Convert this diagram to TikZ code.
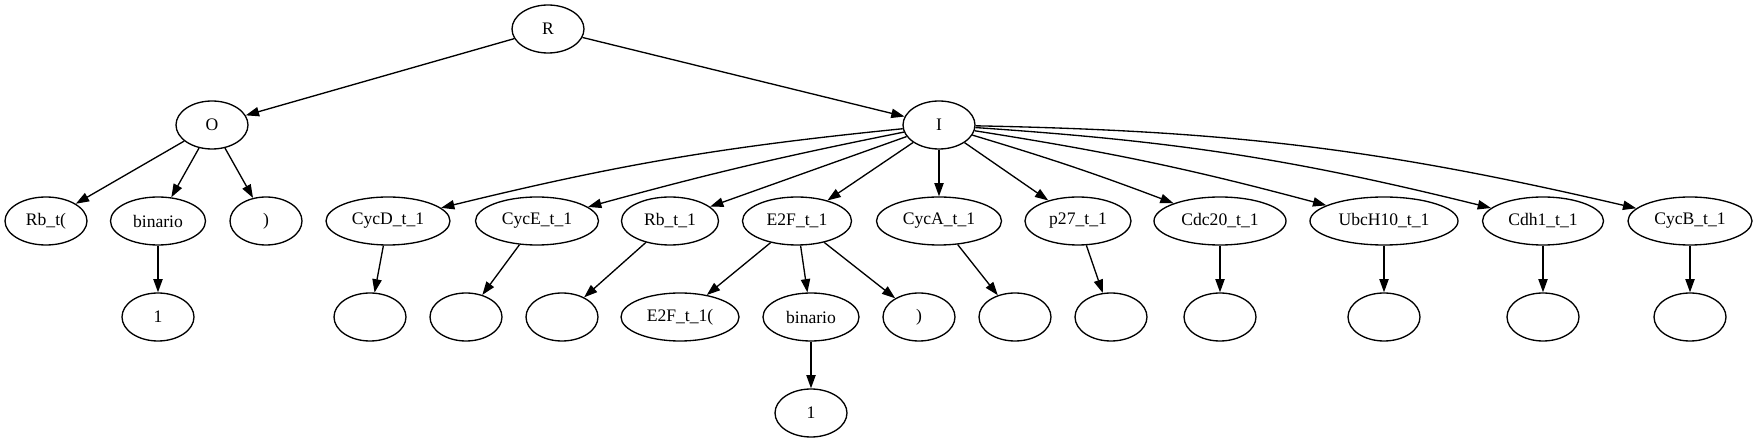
\documentclass[tikz,border=0pt]{standalone}
\usepackage{fontspec}
\setmainfont{Liberation Serif}
\usetikzlibrary{shapes.geometric,arrows.meta}
\tikzset{
  gv/.style={draw, ellipse, line width=1.33pt, inner sep=0pt, minimum width=72pt, minimum height=48pt,
    font=\fontsize{17.6}{20}\selectfont},
  edge/.style={line width=1.33pt, -{Triangle[length=13.3pt,width=9.3pt]}}
}
\begin{document}
\begin{tikzpicture}[x=1pt,y=1pt]
\useasboundingbox (0,0) rectangle (1757,-443);
% level 0
\node[gv] (R) at (548,-29) {R};
% level 1
\node[gv] (O) at (212,-125) {O};
\node[gv] (I) at (939,-125) {I};
% level 2
\node[gv, minimum width=82pt] (rbt) at (46,-221) {Rb\_t(};
\node[gv, minimum width=95pt] (bin1) at (158,-221) {binario};
\node[gv] (par1) at (266,-221) {)};
\node[gv, minimum width=124pt] (cycd) at (388,-221) {CycD\_t\_1};
\node[gv, minimum width=123pt] (cyce) at (537,-221) {CycE\_t\_1};
\node[gv, minimum width=97pt] (rbt1) at (670,-221) {Rb\_t\_1};
\node[gv, minimum width=109pt] (e2f) at (797,-221) {E2F\_t\_1};
\node[gv, minimum width=125pt] (cyca) at (939,-221) {CycA\_t\_1};
\node[gv, minimum width=106pt] (p27) at (1078,-221) {p27\_t\_1};
\node[gv, minimum width=132pt] (cdc20) at (1220,-221) {Cdc20\_t\_1};
\node[gv, minimum width=148pt] (ubc) at (1384,-221) {UbcH10\_t\_1};
\node[gv, minimum width=121pt] (cdh1) at (1543,-221) {Cdh1\_t\_1};
\node[gv, minimum width=124pt] (cycb) at (1690,-221) {CycB\_t\_1};
% level 3
\node[gv] (one1) at (158,-317) {1};
\node[gv] (ecycd) at (370,-317) {};
\node[gv] (ecyce) at (466,-317) {};
\node[gv] (erb) at (562,-317) {};
\node[gv, minimum width=118pt] (e2fp) at (680,-317) {E2F\_t\_1(};
\node[gv, minimum width=96pt] (bin2) at (811,-317) {binario};
\node[gv] (par2) at (919,-317) {)};
\node[gv] (ecyca) at (1015,-317) {};
\node[gv] (ep27) at (1111,-317) {};
\node[gv] (ecdc20) at (1220,-317) {};
\node[gv] (eubc) at (1384,-317) {};
\node[gv] (ecdh1) at (1543,-317) {};
\node[gv] (ecycb) at (1690,-317) {};
% level 4
\node[gv] (one2) at (811,-413) {1};
% edges
\draw[edge] (R) -- (O);
\draw[edge] (R) -- (I);
\draw[edge] (O) -- (rbt);
\draw[edge] (O) -- (bin1);
\draw[edge] (O) -- (par1);
\draw[edge] (bin1) -- (one1);
\draw[edge] (I) to[bend right=4] (cycd);
\draw[edge] (I) to[bend right=2] (cyce);
\draw[edge] (I) -- (rbt1);
\draw[edge] (I) -- (e2f);
\draw[edge] (I) -- (cyca);
\draw[edge] (I) -- (p27);
\draw[edge] (I) to[bend left=2] (cdc20);
\draw[edge] (I) to[bend left=3] (ubc);
\draw[edge] (I) to[bend left=5] (cdh1);
\draw[edge] (I) to[bend left=6] (cycb);
\draw[edge] (cycd) -- (ecycd);
\draw[edge] (cyce) -- (ecyce);
\draw[edge] (rbt1) -- (erb);
\draw[edge] (e2f) -- (e2fp);
\draw[edge] (e2f) -- (bin2);
\draw[edge] (e2f) -- (par2);
\draw[edge] (bin2) -- (one2);
\draw[edge] (cyca) -- (ecyca);
\draw[edge] (p27) -- (ep27);
\draw[edge] (cdc20) -- (ecdc20);
\draw[edge] (ubc) -- (eubc);
\draw[edge] (cdh1) -- (ecdh1);
\draw[edge] (cycb) -- (ecycb);
\end{tikzpicture}
\end{document}
